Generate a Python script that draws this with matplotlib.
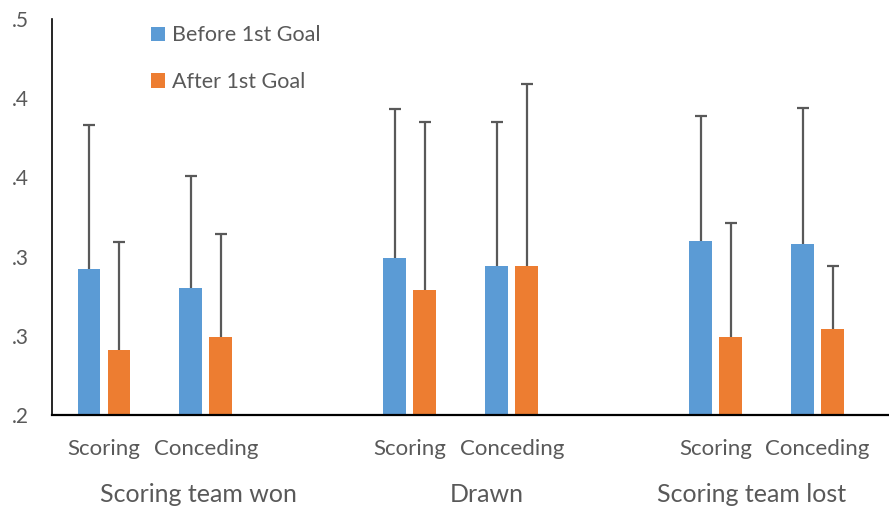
import matplotlib.pyplot as plt
import numpy as np

# values
groups = ["Scoring team won", "Drawn", "Scoring team lost"]
subcats = ["Scoring", "Conceding"] * 3
before = [0.292, 0.280, 0.299, 0.294, 0.310, 0.308]
before_err = [0.091, 0.071, 0.094, 0.091, 0.079, 0.086]
after = [0.241, 0.249, 0.279, 0.294, 0.249, 0.254]
after_err = [0.068, 0.065, 0.106, 0.115, 0.072, 0.040]
yticks = [0.2, 0.25, 0.3, 0.35, 0.4, 0.45]
yticklabels = [".2", ".3", ".3", ".4", ".4", ".5"]

plt.rcParams['font.family'] = ['Lato', 'DejaVu Sans']
blue = "#5B9BD5"
orange = "#ED7D31"
grey = "#595959"

fig = plt.figure(figsize=(8.89, 5.08), dpi=100)
ax = fig.add_axes([52 / 889, 93 / 508, 837 / 889, 396 / 508])

# slot layout: two bars per slot, an empty slot between groups
slots = np.array([0, 1, 3, 4, 6, 7])
w = 0.225
off = 0.147
ebar = dict(ecolor=grey, elinewidth=1.6, capsize=4.5, capthick=1.6)
zeros = np.zeros(len(before))
b1 = ax.bar(slots - off, before, w, color=blue, label="Before 1st Goal",
            yerr=[zeros, before_err], error_kw=ebar)
b2 = ax.bar(slots + off, after, w, color=orange, label="After 1st Goal",
            yerr=[zeros, after_err], error_kw=ebar)
# only the plus side is shown, so drop the lower caps
for b in (b1, b2):
    caps = b.errorbar.lines[1]
    caps[0].set_visible(False)

ax.set_ylim(0.2, 0.45)
ax.set_xlim(-0.51, 7.7)
ax.set_yticks(yticks)
ax.set_yticklabels(yticklabels, fontsize=15, color=grey)
ax.tick_params(axis='y', length=0, pad=17)
ax.tick_params(axis='x', length=0)
ax.set_xticks(slots)
ax.set_xticklabels(subcats, fontsize=16, color=grey)
ax.tick_params(axis='x', pad=17)

for s in ["top", "right"]:
    ax.spines[s].set_visible(False)
ax.spines["left"].set_linewidth(1.2)
ax.spines["bottom"].set_linewidth(1.6)

# group labels below the sub-category labels
group_x = [0.93, 3.75, 6.35]
for gx, g in zip(group_x, groups):
    ax.text(gx, -0.2, g, transform=ax.get_xaxis_transform(), ha='center',
            va='center', fontsize=18, color=grey)

ax.legend(loc='upper left', bbox_to_anchor=(0.095, 1.033), frameon=False,
          fontsize=15.5, handlelength=0.65, handleheight=0.65, handletextpad=0.35,
          labelspacing=1.25, labelcolor=grey)

fig.savefig("out.png", dpi=100)
